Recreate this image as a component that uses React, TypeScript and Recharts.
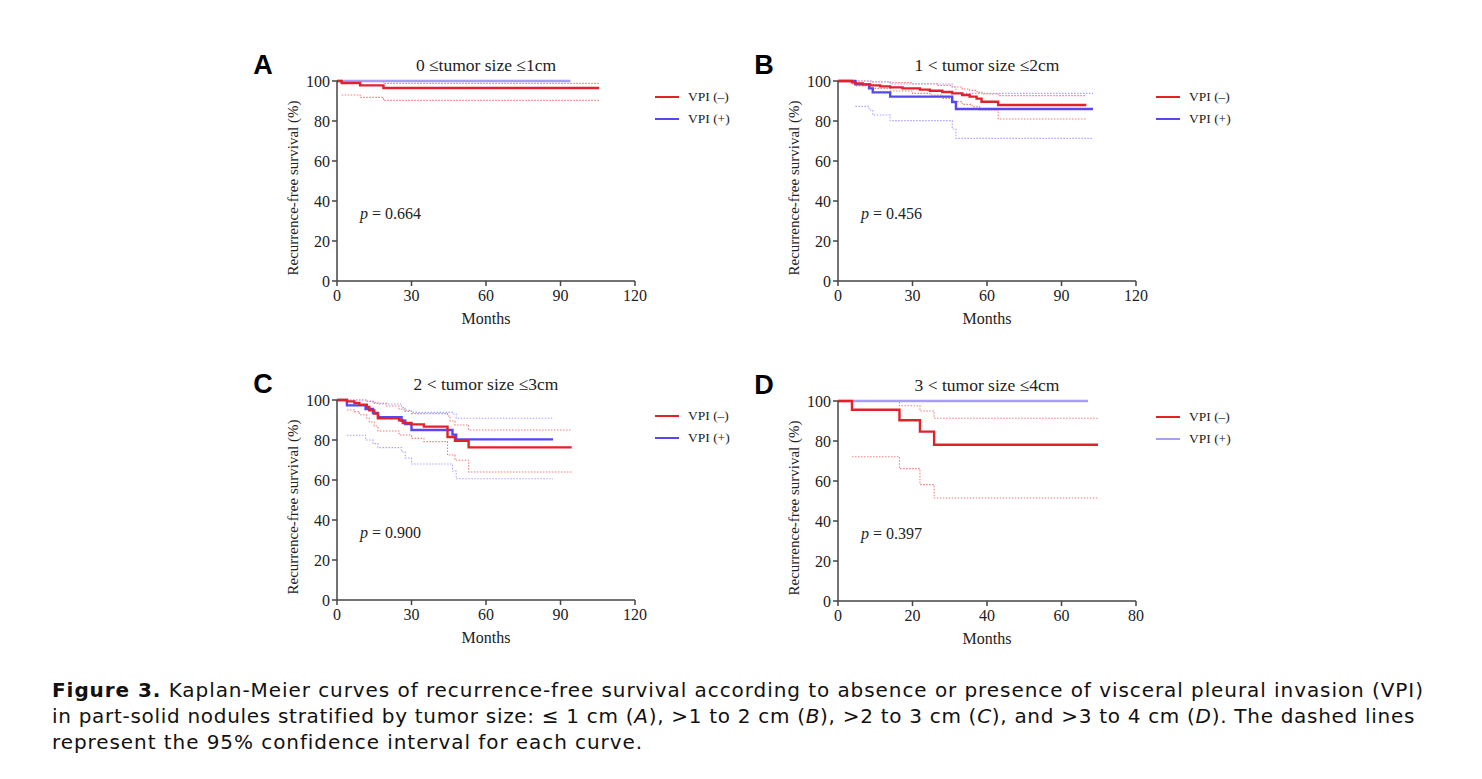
import React from 'react';
import { LineChart, Line, XAxis, YAxis } from 'recharts';

type P = { t: number; s: number };

// ---------- Panel A: 0 <= size <= 1 cm ----------
const A_NEG: P[] = [
  { t: 0, s: 100 }, { t: 1.9, s: 99 }, { t: 9.3, s: 97.8 }, { t: 18.7, s: 96.5 }, { t: 105.6, s: 96.5 },
];
const A_NEG_UP: P[] = [
  { t: 1.9, s: 100 }, { t: 18.7, s: 98.8 }, { t: 105.6, s: 98.8 },
];
const A_NEG_LO: P[] = [
  { t: 1.9, s: 93 }, { t: 9.3, s: 91.8 }, { t: 18.7, s: 90.3 }, { t: 105.6, s: 90.3 },
];
const A_POS: P[] = [{ t: 0, s: 100 }, { t: 94, s: 100 }];

// ---------- Panel B: 1 < size <= 2 cm ----------
const B_NEG: P[] = [
  { t: 0, s: 100 }, { t: 5.6, s: 99.3 }, { t: 7, s: 98.8 }, { t: 10, s: 98.3 }, { t: 13, s: 97.8 },
  { t: 17, s: 97.3 }, { t: 21, s: 96.8 }, { t: 26, s: 96.3 }, { t: 33, s: 95.7 }, { t: 37, s: 95.1 },
  { t: 42, s: 94.5 }, { t: 46, s: 93.8 }, { t: 50, s: 93 }, { t: 53, s: 92.2 }, { t: 55.8, s: 91.2 },
  { t: 57.8, s: 89.6 }, { t: 64.5, s: 88 }, { t: 100, s: 88 },
];
const B_NEG_UP: P[] = [
  { t: 5.6, s: 100 }, { t: 13, s: 99.6 }, { t: 21, s: 99.2 }, { t: 30, s: 98.6 }, { t: 40, s: 97.8 },
  { t: 46, s: 97 }, { t: 50, s: 96 }, { t: 53, s: 95.3 }, { t: 56, s: 94.3 }, { t: 58, s: 93.5 },
  { t: 64.5, s: 92.7 }, { t: 100, s: 92.7 },
];
const B_NEG_LO: P[] = [
  { t: 5.6, s: 98.5 }, { t: 7, s: 97.5 }, { t: 13, s: 96.3 }, { t: 21, s: 95 }, { t: 30, s: 93.8 },
  { t: 37, s: 93 }, { t: 42, s: 91.3 }, { t: 46, s: 89.7 }, { t: 50, s: 88.3 }, { t: 54, s: 87.2 },
  { t: 57, s: 85.5 }, { t: 64.5, s: 81 }, { t: 100, s: 81 },
];
const B_POS: P[] = [
  { t: 0, s: 100 }, { t: 7, s: 98.3 }, { t: 12.5, s: 96.3 }, { t: 14, s: 94.3 }, { t: 21, s: 92.2 },
  { t: 46, s: 89.5 }, { t: 47.5, s: 86 }, { t: 102.7, s: 86 },
];
const B_POS_UP: P[] = [
  { t: 7, s: 100 }, { t: 14, s: 99.5 }, { t: 21, s: 98.5 }, { t: 46, s: 97 }, { t: 47.5, s: 93.8 },
  { t: 102.7, s: 93.8 },
];
const B_POS_LO: P[] = [
  { t: 7, s: 87.3 }, { t: 12.5, s: 85.5 }, { t: 14, s: 83 }, { t: 21, s: 80.2 }, { t: 46, s: 76 },
  { t: 47.5, s: 71.3 }, { t: 102.7, s: 71.3 },
];

// ---------- Panel C: 2 < size <= 3 cm ----------
const C_NEG: P[] = [
  { t: 0, s: 100 }, { t: 4, s: 99.3 }, { t: 7, s: 98.5 }, { t: 9, s: 97.6 }, { t: 12, s: 96.5 },
  { t: 13, s: 94.8 }, { t: 15, s: 93.2 }, { t: 16.5, s: 90.9 }, { t: 25, s: 89.8 }, { t: 26.5, s: 88.5 },
  { t: 30, s: 87.8 }, { t: 35, s: 86.7 }, { t: 44.5, s: 81.5 }, { t: 47.5, s: 79.6 }, { t: 53, s: 76.3 },
  { t: 94.5, s: 76.3 },
];
const C_NEG_UP: P[] = [
  { t: 4, s: 100 }, { t: 12, s: 99.3 }, { t: 15, s: 98.3 }, { t: 20, s: 97 }, { t: 25, s: 95.5 },
  { t: 27, s: 94.3 }, { t: 30, s: 93.2 }, { t: 44.5, s: 92 }, { t: 45.5, s: 89.5 }, { t: 47.5, s: 87.5 },
  { t: 53, s: 85 }, { t: 94.5, s: 85 },
];
const C_NEG_LO: P[] = [
  { t: 4, s: 95 }, { t: 7, s: 94.2 }, { t: 9, s: 92.6 }, { t: 12, s: 90.9 }, { t: 13, s: 89 },
  { t: 15, s: 87 }, { t: 16.5, s: 84.5 }, { t: 25, s: 82.5 }, { t: 30, s: 80.8 }, { t: 35, s: 79.2 },
  { t: 44.5, s: 72.5 }, { t: 47.5, s: 69.9 }, { t: 53, s: 64 }, { t: 94.5, s: 64 },
];
const C_POS: P[] = [
  { t: 0, s: 100 }, { t: 4, s: 97.3 }, { t: 11.5, s: 95.5 }, { t: 14.5, s: 93.5 }, { t: 16.5, s: 91.4 },
  { t: 26, s: 89.6 }, { t: 27.5, s: 88 }, { t: 30, s: 85 }, { t: 46.5, s: 82.7 }, { t: 48, s: 80.3 },
  { t: 87, s: 80.3 },
];
const C_POS_UP: P[] = [
  { t: 4, s: 100 }, { t: 11.5, s: 99.5 }, { t: 14.5, s: 98.8 }, { t: 16.5, s: 98 }, { t: 26, s: 96.2 },
  { t: 27.5, s: 94.8 }, { t: 30, s: 93.8 }, { t: 46.5, s: 93 }, { t: 48, s: 90.9 }, { t: 87, s: 90.9 },
];
const C_POS_LO: P[] = [
  { t: 4, s: 82.4 }, { t: 11.5, s: 80 }, { t: 14.5, s: 78.2 }, { t: 16.5, s: 76.2 }, { t: 26, s: 74 },
  { t: 27.5, s: 71 }, { t: 30, s: 68 }, { t: 46.5, s: 64.5 }, { t: 48, s: 60.6 }, { t: 87, s: 60.6 },
];

// ---------- Panel D: 3 < size <= 4 cm ----------
const D_NEG: P[] = [
  { t: 0, s: 100 }, { t: 3.75, s: 95.6 }, { t: 16.5, s: 90.4 }, { t: 22, s: 84.7 }, { t: 25.8, s: 78.1 },
  { t: 69.8, s: 78.1 },
];
const D_NEG_UP: P[] = [
  { t: 3.75, s: 99.8 }, { t: 16.5, s: 97.6 }, { t: 22, s: 95 }, { t: 25.8, s: 91.4 }, { t: 69.8, s: 91.4 },
];
const D_NEG_LO: P[] = [
  { t: 3.75, s: 72.1 }, { t: 16.5, s: 66.2 }, { t: 22, s: 58.2 }, { t: 25.8, s: 51.5 }, { t: 69.8, s: 51.5 },
];
const D_POS: P[] = [{ t: 0, s: 100 }, { t: 67.1, s: 100 }];

// ---------- labels / ticks ----------
const X_TICKS_120 = [0, 30, 60, 90, 120];
const X_TICKS_80 = [0, 20, 40, 60, 80];
const Y_TICKS = [0, 20, 40, 60, 80, 100];
const LETTERS = ['A', 'B', 'C', 'D'];
const TITLES = ['0 ≤tumor size ≤1cm', '1 < tumor size ≤2cm', '2 < tumor size ≤3cm', '3 < tumor size ≤4cm'];
const P_VALUES = ['0.664', '0.456', '0.900', '0.397'];
const LEGEND_LABELS = ['VPI (–)', 'VPI (+)'];
const Y_LABEL = 'Recurrence-free survival (%)';
const X_LABEL = 'Months';

const RED = '#e0232b';
const BLUE = '#5647f2';
const BLUE_LIGHT = '#a79ef7';
const RED_CI = '#f27d7d';
const BLUE_CI = '#a9a2ff';

const SERIF = '"Liberation Serif", "Times New Roman", serif';

type S = { data: P[]; color: string; width: number; dash?: string };

type PanelProps = {
  idx: number;
  x0: number;
  yTop: number;
  xMax: number;
  xTicks: number[];
  series: S[];
  legendColors: string[];
};

const txt = (x: number, y: number, content: React.ReactNode, style: React.CSSProperties, anchor: 'middle' | 'start' = 'middle', rotate = false) => (
  <div
    style={{
      position: 'absolute',
      left: x,
      top: y,
      whiteSpace: 'nowrap',
      transform: `translate(${anchor === 'middle' ? '-50%' : '0'}, -50%)${rotate ? ' rotate(-90deg)' : ''}`,
      lineHeight: 1,
      ...style,
    }}
  >
    {content}
  </div>
);

function Panel({ idx, x0, yTop, xMax, xTicks, series, legendColors }: PanelProps) {
  const plotW = 298;
  const plotH = 200;
  const mL = 70, yW = 40, mT = 20, mR = 20, xH = 30, mB = 30;
  const W = mL + yW + plotW + mR;
  const H = mT + plotH + xH + mB;
  const cx = x0 + plotW / 2;
  const tick = { fontFamily: SERIF, fontSize: 16, fill: '#222' };
  return (
    <>
      <div style={{ position: 'absolute', left: x0 - mL - yW, top: yTop - mT }}>
        <LineChart width={W} height={H} margin={{ top: mT, right: mR, bottom: mB, left: mL }}>
          <XAxis
            type="number"
            dataKey="t"
            domain={[0, xMax]}
            ticks={xTicks}
            allowDataOverflow
            height={xH}
            tickSize={5}
            tickMargin={4}
            tick={tick}
            stroke="#444"
            strokeWidth={1.5}
            interval={0}
          />
          <YAxis
            type="number"
            dataKey="s"
            domain={[0, 100]}
            ticks={Y_TICKS}
            width={yW}
            tickSize={5}
            tick={tick}
            stroke="#444"
            strokeWidth={1.5}
            interval={0}
          />
          {series.map((s, i) => (
            <Line
              key={i}
              data={s.data}
              dataKey="s"
              type="stepAfter"
              stroke={s.color}
              strokeWidth={s.width}
              strokeDasharray={s.dash}
              dot={false}
              activeDot={false}
              isAnimationActive={false}
            />
          ))}
        </LineChart>
      </div>
      {txt(x0 - 74, yTop - 16, LETTERS[idx], { fontFamily: '"Liberation Sans", Arial, sans-serif', fontWeight: 700, fontSize: 27, color: '#000' })}
      {txt(cx, yTop - 15, TITLES[idx], { fontFamily: SERIF, fontSize: 17.5, color: '#222' })}
      {txt(cx, yTop + 238, X_LABEL, { fontFamily: SERIF, fontSize: 16, color: '#222' })}
      {txt(x0 - 44, yTop + 107, Y_LABEL, { fontFamily: SERIF, fontSize: 15, color: '#222' }, 'middle', true)}
      {txt(x0 + 23, yTop + 133, (<><i>p</i> = {P_VALUES[idx]}</>), { fontFamily: SERIF, fontSize: 16, color: '#222' }, 'start')}
      {LEGEND_LABELS.map((l, i) => (
        <React.Fragment key={l}>
          <div style={{ position: 'absolute', left: x0 + 318, top: yTop + 16 + i * 22 - 1, width: 24, height: 2, background: legendColors[i] }} />
          {txt(x0 + 351, yTop + 16 + i * 22, l, { fontFamily: SERIF, fontSize: 13.5, color: '#222' }, 'start')}
        </React.Fragment>
      ))}
    </>
  );
}

const ci = (data: P[], color: string): S => ({ data, color, width: 1.1, dash: '1.5 1.5' });
const solid = (data: P[], color: string): S => ({ data, color, width: 2.4 });

const CAPTION_FONT = '"DejaVu Sans", sans-serif';

export default function App() {
  return (
    <div style={{ position: 'absolute', left: 0, top: 0, width: 1482, height: 779, background: '#fff', overflow: 'hidden' }}>
      <Panel
        idx={0} x0={337} yTop={81} xMax={120} xTicks={X_TICKS_120}
        legendColors={[RED, BLUE]}
        series={[
          ci(A_NEG_UP, RED_CI), ci(A_NEG_LO, RED_CI),
          solid(A_POS, BLUE_LIGHT), solid(A_NEG, RED),
        ]}
      />
      <Panel
        idx={1} x0={838} yTop={81} xMax={120} xTicks={X_TICKS_120}
        legendColors={[RED, BLUE]}
        series={[
          ci(B_NEG_UP, RED_CI), ci(B_NEG_LO, RED_CI), ci(B_POS_UP, BLUE_CI), ci(B_POS_LO, BLUE_CI),
          solid(B_POS, BLUE), solid(B_NEG, RED),
        ]}
      />
      <Panel
        idx={2} x0={337} yTop={400} xMax={120} xTicks={X_TICKS_120}
        legendColors={[RED, BLUE]}
        series={[
          ci(C_NEG_UP, RED_CI), ci(C_NEG_LO, RED_CI), ci(C_POS_UP, BLUE_CI), ci(C_POS_LO, BLUE_CI),
          solid(C_POS, BLUE), solid(C_NEG, RED),
        ]}
      />
      <Panel
        idx={3} x0={838} yTop={401} xMax={80} xTicks={X_TICKS_80}
        legendColors={[RED, BLUE_LIGHT]}
        series={[
          ci(D_NEG_UP, RED_CI), ci(D_NEG_LO, RED_CI),
          solid(D_POS, BLUE_LIGHT), solid(D_NEG, RED),
        ]}
      />
      <div style={{ position: 'absolute', left: 52, top: 677, fontFamily: CAPTION_FONT, fontSize: 20, lineHeight: '26px', color: '#111', whiteSpace: 'nowrap' }}>
        <div style={{ letterSpacing: 0.93 }}><b>Figure 3.</b> Kaplan-Meier curves of recurrence-free survival according to absence or presence of visceral pleural invasion (VPI)</div>
        <div style={{ letterSpacing: 0.7 }}>in part-solid nodules stratified by tumor size: ≤ 1 cm (<i>A</i>), &gt;1 to 2 cm (<i>B</i>), &gt;2 to 3 cm (<i>C</i>), and &gt;3 to 4 cm (<i>D</i>). The dashed lines</div>
        <div style={{ letterSpacing: 0.93 }}>represent the 95% confidence interval for each curve.</div>
      </div>
    </div>
  );
}
